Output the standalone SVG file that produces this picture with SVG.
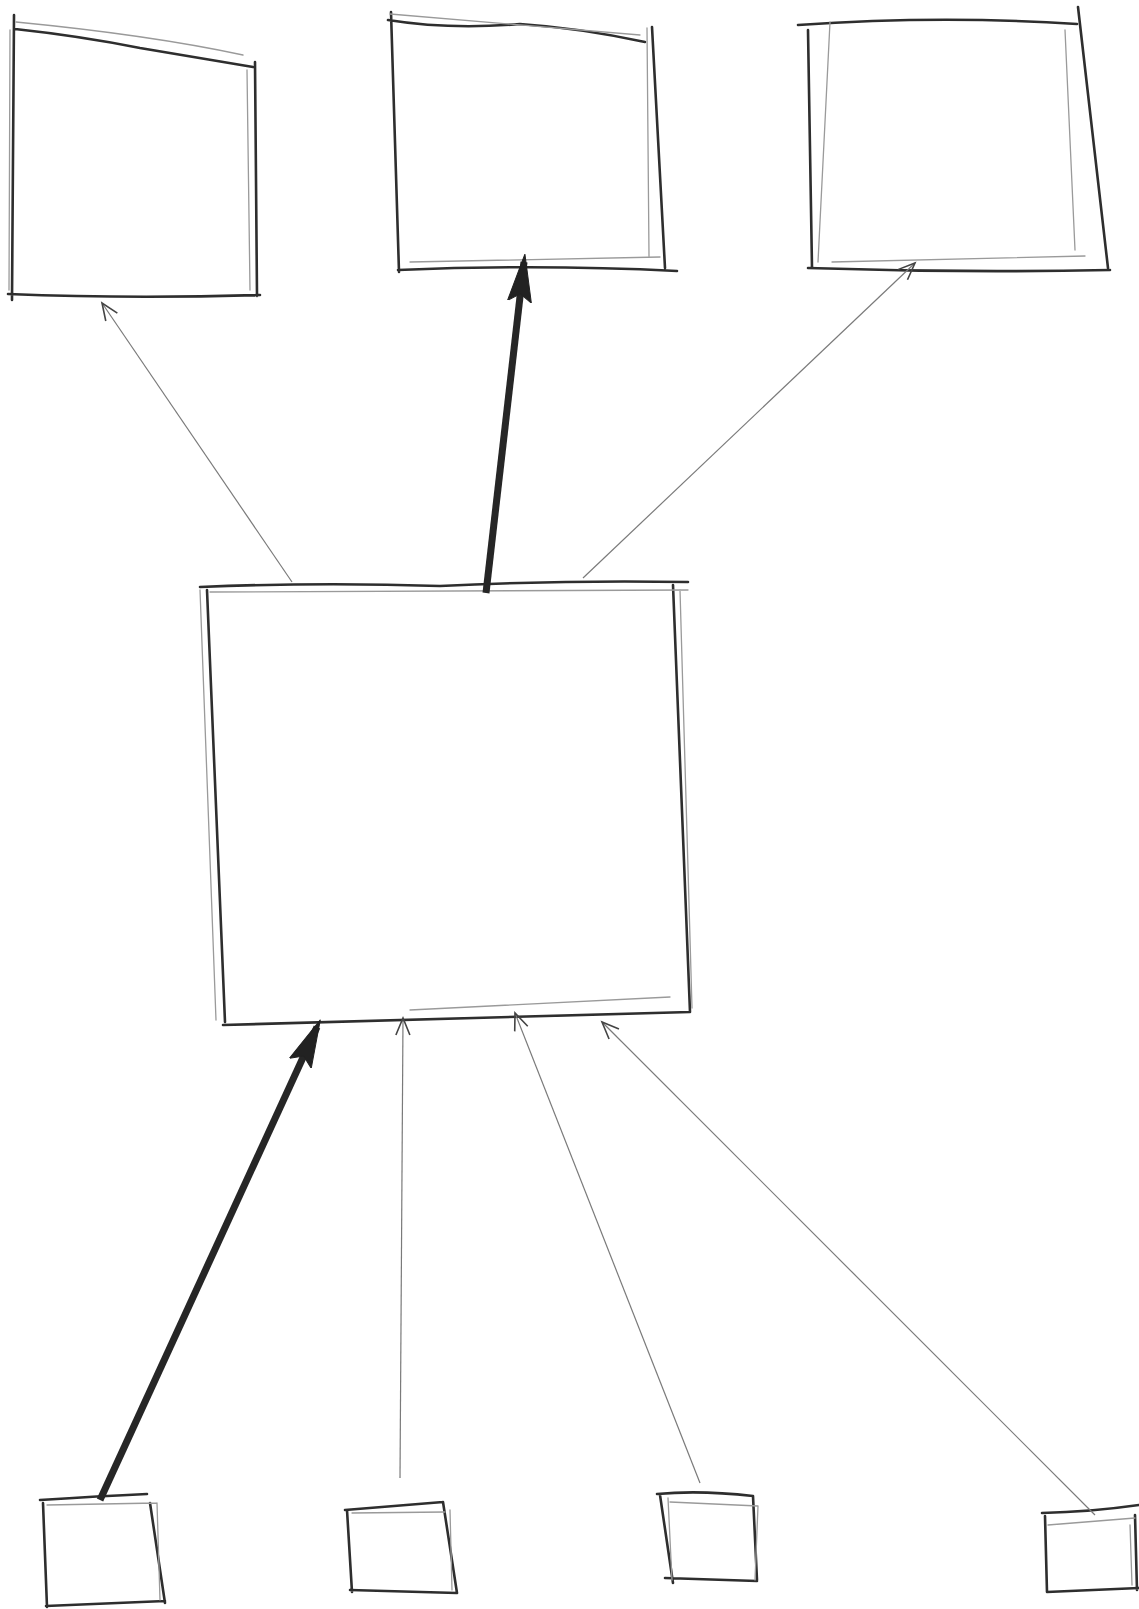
<svg xmlns="http://www.w3.org/2000/svg" width="1139" height="1609" viewBox="0 0 1139 1609">
<style>
.bg{fill:#ffffff}
.edge{fill:none;stroke:#2e2e2e;stroke-width:2.6;stroke-linecap:round;stroke-linejoin:round}
.faint{fill:none;stroke:#9a9a9a;stroke-width:1.3;stroke-linecap:round}
.thin{fill:none;stroke:#7a7a7a;stroke-width:1.2}
.thick{fill:none;stroke:#262626;stroke-width:7;stroke-linecap:butt}
</style>
<defs>
<marker id="open" markerUnits="userSpaceOnUse" markerWidth="22" markerHeight="20" refX="18" refY="8" orient="auto">
<path d="M1,1 L18,8 L1,15" fill="none" stroke="#444" stroke-width="1.6"/>
</marker>
<marker id="solid" markerUnits="userSpaceOnUse" markerWidth="54" markerHeight="32" refX="40" refY="14" orient="auto">
<path d="M0,2 L48,14 L0,26 L8,14 Z" fill="#222" stroke="#222" stroke-width="1"/>
</marker>
</defs>
<rect class="bg" x="0" y="0" width="1139" height="1609"/>

<g id="node-top-left">
<path class="edge" d="M15,29 Q80,36 140,48 Q200,58 253,67 M255,62 L257,296 M8,294 Q130,299 260,295 M14,15 L12,300"/>
<path class="faint" d="M16,22 Q150,35 243,55 M247,70 L250,290 M10,30 L9,290"/>
</g>

<g id="node-top-middle">
<path class="edge" d="M388,20 Q450,30 520,24 Q580,28 645,42 M652,27 L665,268 M398,270 Q540,264 677,271 M391,12 L399,272"/>
<path class="faint" d="M390,14 L640,35 M647,28 L649,256 M410,262 L660,257"/>
</g>

<g id="node-top-right">
<path class="edge" d="M798,25 Q940,15 1077,24 M808,30 L812,268 M1078,7 L1108,268 M808,268 Q960,273 1110,270"/>
<path class="faint" d="M830,22 L818,262 M832,262 L1085,256 M1065,30 L1075,250"/>
</g>

<g id="node-center">
<path class="edge" d="M200,587 Q320,582 440,586 Q560,580 688,582 M207,590 L225,1022 M673,585 L690,1012 M223,1025 Q460,1018 690,1012"/>
<path class="faint" d="M200,590 L216,1020 M680,590 L692,1008 M210,592 L688,590 M410,1010 L670,997"/>
</g>

<g id="node-bottom-1">
<path class="edge" d="M40,1500 Q100,1496 147,1494 M43,1503 L47,1607 M150,1503 L165,1603 M46,1606 L165,1601"/>
<path class="faint" d="M47,1505 L157,1503 M157,1503 L160,1600"/>
</g>

<g id="node-bottom-2">
<path class="edge" d="M345,1510 L443,1502 M347,1510 L352,1592 M443,1502 L457,1593 M350,1590 L457,1593"/>
<path class="faint" d="M352,1513 L445,1512 M450,1510 L452,1590"/>
</g>

<g id="node-bottom-3">
<path class="edge" d="M657,1494 Q700,1490 753,1496 M660,1495 L673,1583 M753,1496 L757,1580 M665,1578 L757,1581"/>
<path class="faint" d="M670,1502 L758,1506 M758,1506 L755,1580 M668,1498 L672,1580"/>
</g>

<g id="node-bottom-4">
<path class="edge" d="M1042,1513 Q1090,1512 1139,1505 M1045,1516 L1047,1592 M1135,1515 L1137,1590 M1047,1592 L1139,1588"/>
<path class="faint" d="M1048,1525 L1135,1518 M1130,1525 L1132,1585"/>
</g>

<g id="connectors">
<path class="thin" d="M292,582 L102,303" marker-end="url(#open)"/>
<path class="thick" d="M486,593 L524,262" marker-end="url(#solid)"/>
<path class="thin" d="M583,578 L915,263" marker-end="url(#open)"/>
<path class="thick" d="M100,1500 L317,1027" marker-end="url(#solid)"/>
<path class="thin" d="M400,1478 L403,1018" marker-end="url(#open)"/>
<path class="thin" d="M700,1483 L515,1013" marker-end="url(#open)"/>
<path class="thin" d="M1095,1515 L602,1022" marker-end="url(#open)"/>
</g>
</svg>
